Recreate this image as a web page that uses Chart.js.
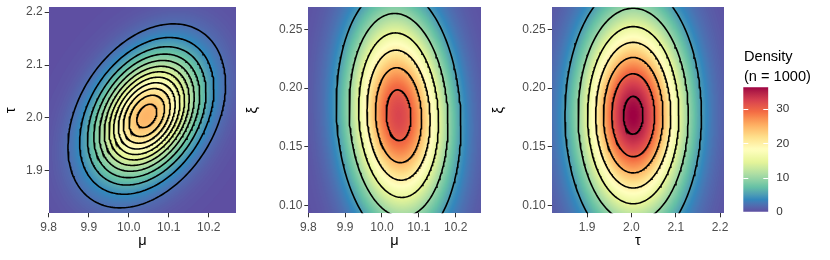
<!DOCTYPE html>
<html>
<head>
<meta charset="utf-8">
<script src="https://cdn.jsdelivr.net/npm/chart.js@4.4.1/dist/chart.umd.min.js"></script>
<style>
  body { margin: 0; background: #fff; }
  #wrap { position: relative; width: 830px; height: 260px; overflow: hidden; }
  #wrap canvas { position: absolute; left: 0; top: 0; }
  .legend-title { position: absolute; left: 744px; font: 14.6px "Liberation Sans", Arial, sans-serif; color: #000; line-height: 20px; white-space: nowrap; }
</style>
</head>
<body>
<div id="wrap">
  <canvas id="panel1" width="830" height="260"></canvas>
  <canvas id="panel2" width="830" height="260"></canvas>
  <canvas id="panel3" width="830" height="260"></canvas>
  <canvas id="colorbar" width="830" height="260"></canvas>
  <div class="legend-title" style="top:46px">Density<br>(n = 1000)</div>
</div>
<script>
// posterior summary of the three parameters
const paramNames = ['μ', 'τ', 'ξ'];
const paramMeans = [10.045, 2.004, 0.177];
const paramSds = [0.0876, 0.0773, 0.0565];

// pair shown in each panel (x, y) and the correlation of that pair
const panelPairs = [[0, 1], [0, 2], [1, 2]];
const panelRho = [0.34, -0.08, 0.0];

// contour levels in each panel
const contourLevels = [
  [2, 4, 6, 8, 10, 12, 14, 16, 18, 20, 22, 24],
  [5, 10, 15, 20, 25, 30],
  [5, 10, 15, 20, 25, 30, 35]
];

// axis limits and ticks
const paramLimits = [[9.8, 10.268], [1.82, 2.209], [0.0936, 0.2687]];
const muTicks = [9.8, 9.9, 10.0, 10.1, 10.2];
const muTickLabels = ['9.8', '9.9', '10.0', '10.1', '10.2'];
const tauTicks = [1.9, 2.0, 2.1, 2.2];
const tauTickLabels = ['1.9', '2.0', '2.1', '2.2'];
const xiTicks = [0.10, 0.15, 0.20, 0.25];
const xiTickLabels = ['0.10', '0.15', '0.20', '0.25'];
const paramTicks = [muTicks, tauTicks, xiTicks];
const paramTickLabels = [muTickLabels, tauTickLabels, xiTickLabels];

// fill scale
const densityLimits = [0, 36.4];
const densityTicks = [0, 10, 20, 30];
const densityTickLabels = ['0', '10', '20', '30'];
const spectral = ['#5E4FA2', '#3288BD', '#66C2A5', '#ABDDA4', '#E6F598', '#FFFFBF',
                  '#FEE08B', '#FDAE61', '#F46D43', '#D53E4F', '#9E0142'];

// where each panel sits on the page
const panelBox = [
  { axisLeft: 0.5, left: 48.7, right: 236 },
  { axisLeft: 241.8, left: 308.3, right: 480.7 },
  { axisLeft: 487.8, left: 551.7, right: 724 }
];
const plotTop = 7.3, plotBottom = 213.3;

const FONT = '"Liberation Sans", Arial, sans-serif';

// colour ramp interpolated in Lab, like ggplot does
function hexRgb(h) {
  return [parseInt(h.slice(1, 3), 16), parseInt(h.slice(3, 5), 16), parseInt(h.slice(5, 7), 16)];
}
function toLin(c) { c /= 255; return c <= 0.04045 ? c / 12.92 : Math.pow((c + 0.055) / 1.055, 2.4); }
function fromLin(c) { c = c <= 0.0031308 ? 12.92 * c : 1.055 * Math.pow(c, 1 / 2.4) - 0.055; return Math.max(0, Math.min(255, Math.round(c * 255))); }
function rgbToLab([r, g, b]) {
  r = toLin(r); g = toLin(g); b = toLin(b);
  let x = (0.4124 * r + 0.3576 * g + 0.1805 * b) / 0.95047;
  let y = 0.2126 * r + 0.7152 * g + 0.0722 * b;
  let z = (0.0193 * r + 0.1192 * g + 0.9505 * b) / 1.08883;
  const f = t => t > 0.008856 ? Math.cbrt(t) : 7.787 * t + 16 / 116;
  x = f(x); y = f(y); z = f(z);
  return [116 * y - 16, 500 * (x - y), 200 * (y - z)];
}
function labToRgb([L, a, b]) {
  const fy = (L + 16) / 116, fx = fy + a / 500, fz = fy - b / 200;
  const fi = t => t > 0.206893 ? t * t * t : (t - 16 / 116) / 7.787;
  const x = fi(fx) * 0.95047, y = fi(fy), z = fi(fz) * 1.08883;
  return [
    fromLin(3.2406 * x - 1.5372 * y - 0.4986 * z),
    fromLin(-0.9689 * x + 1.8758 * y + 0.0415 * z),
    fromLin(0.0557 * x - 0.2040 * y + 1.0570 * z)
  ];
}
const labStops = spectral.map(h => rgbToLab(hexRgb(h)));
const lut = [];
for (let k = 0; k < 256; k++) {
  const t = k / 255 * (labStops.length - 1);
  const i = Math.min(Math.floor(t), labStops.length - 2), f = t - i;
  lut.push(labToRgb(labStops[i].map((c, n) => c + (labStops[i + 1][n] - c) * f)));
}
function colourFor(v) {
  let t = (v - densityLimits[0]) / (densityLimits[1] - densityLimits[0]);
  t = Math.max(0, Math.min(1, t));
  return lut[Math.round(t * 255)];
}

function density(p, x, y) {
  const [i, j] = panelPairs[p], rho = panelRho[p];
  const sx = paramSds[i], sy = paramSds[j];
  const u = (x - paramMeans[i]) / sx, v = (y - paramMeans[j]) / sy;
  const q = (u * u - 2 * rho * u * v + v * v) / (1 - rho * rho);
  return Math.exp(-q / 2) / (2 * Math.PI * sx * sy * Math.sqrt(1 - rho * rho));
}

function contour(p, level) {
  const [i, j] = panelPairs[p], rho = panelRho[p];
  const sx = paramSds[i], sy = paramSds[j];
  const peak = 1 / (2 * Math.PI * sx * sy * Math.sqrt(1 - rho * rho));
  const d = Math.sqrt(2 * Math.log(peak / level));
  const pts = [];
  for (let k = 0; k <= 240; k++) {
    const t = 2 * Math.PI * k / 240;
    pts.push({
      x: paramMeans[i] + d * sx * Math.cos(t),
      y: paramMeans[j] + d * sy * (rho * Math.cos(t) + Math.sqrt(1 - rho * rho) * Math.sin(t))
    });
  }
  return pts;
}

function heatmap(p) {
  return {
    id: 'heatmap' + p,
    beforeDatasetsDraw(chart) {
      const { ctx, chartArea: a, scales: { x, y } } = chart;
      const w = Math.ceil(a.width), h = Math.ceil(a.height);
      const off = document.createElement('canvas');
      off.width = w; off.height = h;
      const octx = off.getContext('2d');
      const img = octx.createImageData(w, h);
      for (let r = 0; r < h; r++) {
        const yv = y.getValueForPixel(a.top + (r + 0.5) * a.height / h);
        for (let c = 0; c < w; c++) {
          const xv = x.getValueForPixel(a.left + (c + 0.5) * a.width / w);
          const col = colourFor(density(p, xv, yv));
          const o = (r * w + c) * 4;
          img.data[o] = col[0]; img.data[o + 1] = col[1]; img.data[o + 2] = col[2]; img.data[o + 3] = 255;
        }
      }
      octx.putImageData(img, 0, 0);
      ctx.drawImage(off, a.left, a.top, a.width, a.height);
    }
  };
}

function paramAxis(idx, position, size) {
  const ticks = paramTicks[idx], labels = paramTickLabels[idx];
  return {
    type: 'linear',
    position: position,
    bounds: 'data',
    min: paramLimits[idx][0],
    max: paramLimits[idx][1],
    afterBuildTicks: s => { s.ticks = ticks.map(v => ({ value: v })); },
    afterFit: s => {
      if (position === 'left') s.width = size; else s.height = size;
      s.paddingLeft = s.paddingRight = s.paddingTop = s.paddingBottom = 0;
    },
    ticks: {
      autoSkip: false, maxRotation: 0, padding: position === 'left' ? 2 : 3,
      color: '#4D4D4D', font: { family: FONT, size: 12 },
      callback: (v, i) => labels[i]
    },
    grid: { display: true, drawOnChartArea: false, drawTicks: true, tickLength: 4, tickColor: '#333333', tickWidth: 1 },
    border: { display: false },
    title: {
      display: true, text: paramNames[idx], color: '#000',
      font: { family: FONT, size: 14.6 },
      padding: position === 'left' ? { top: 2, bottom: 0 } : { top: 0, bottom: 10 }
    }
  };
}

panelPairs.forEach((pair, p) => {
  const box = panelBox[p];
  new Chart(document.getElementById('panel' + (p + 1)), {
    type: 'scatter',
    data: {
      datasets: contourLevels[p].map(level => ({
        data: contour(p, level),
        showLine: true, pointRadius: 0, borderColor: '#000', borderWidth: 1.6,
        fill: false, tension: 0, clip: 0
      }))
    },
    options: {
      responsive: false, animation: false, events: [],
      layout: { padding: { left: box.axisLeft, right: 830 - box.right, top: plotTop, bottom: 0 } },
      scales: {
        x: paramAxis(pair[0], 'bottom', 260 - plotBottom),
        y: paramAxis(pair[1], 'left', box.left - box.axisLeft)
      },
      plugins: { legend: { display: false }, tooltip: { enabled: false } }
    },
    plugins: [heatmap(p)]
  });
});

// colour bar
const barTicks = {
  id: 'barTicks',
  afterDatasetsDraw(chart) {
    const { ctx, chartArea: a, scales: { y } } = chart;
    ctx.save();
    ctx.strokeStyle = '#fff';
    ctx.lineWidth = 1;
    densityTicks.forEach(v => {
      const py = Math.round(y.getPixelForValue(v)) + 0.5;
      ctx.beginPath();
      ctx.moveTo(a.left, py); ctx.lineTo(a.left + 5, py);
      ctx.moveTo(a.right - 5, py); ctx.lineTo(a.right, py);
      ctx.stroke();
    });
    ctx.restore();
  }
};

new Chart(document.getElementById('colorbar'), {
  type: 'bar',
  data: {
    labels: ['density'],
    datasets: [{
      data: [densityLimits[1]],
      borderWidth: 0, categoryPercentage: 1, barPercentage: 1,
      backgroundColor: c => {
        const chart = c.chart;
        if (!chart.chartArea) return 'transparent';
        const y = chart.scales.y;
        const y0 = y.getPixelForValue(densityLimits[0]), y1 = y.getPixelForValue(densityLimits[1]);
        const g = chart.ctx.createLinearGradient(0, y0, 0, y1);
        for (let k = 0; k < lut.length; k += 5) {
          g.addColorStop(k / (lut.length - 1), 'rgb(' + lut[k].join(',') + ')');
        }
        g.addColorStop(1, 'rgb(' + lut[lut.length - 1].join(',') + ')');
        return g;
      }
    }]
  },
  options: {
    responsive: false, animation: false, events: [],
    layout: { padding: { left: 743.3, right: 0, top: 87.3, bottom: 48.3 } },
    scales: {
      x: { display: false },
      y: {
        position: 'right', min: densityLimits[0], max: densityLimits[1], bounds: 'data',
        afterBuildTicks: s => { s.ticks = densityTicks.map(v => ({ value: v })); },
        afterFit: s => { s.width = 61.7; s.paddingTop = s.paddingBottom = 0; },
        grid: { display: false, drawTicks: false },
        border: { display: false },
        ticks: {
          padding: 8, color: '#333333', font: { family: FONT, size: 11.7 },
          callback: (v, i) => densityTickLabels[i]
        }
      }
    },
    plugins: { legend: { display: false }, tooltip: { enabled: false } }
  },
  plugins: [barTicks]
});
</script>
</body>
</html>
